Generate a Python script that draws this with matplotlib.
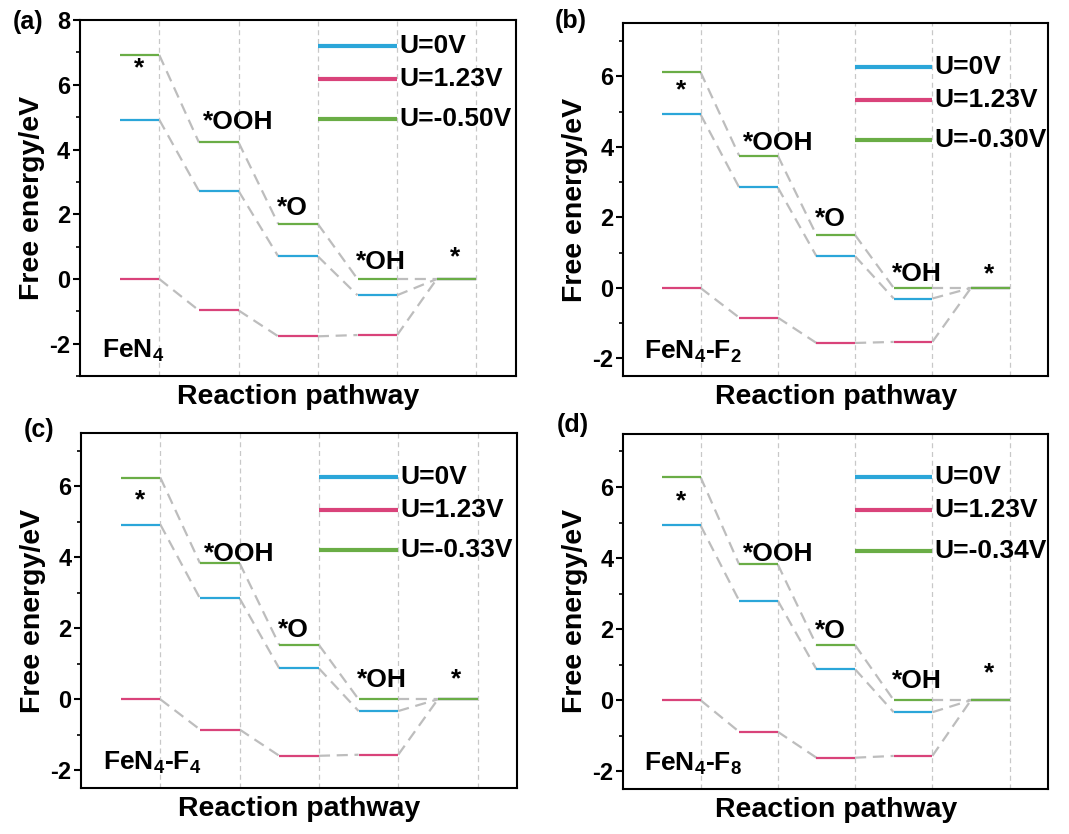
"""
Free energy diagrams of ORR on FeN4 and F-doped FeN4.
"""

import matplotlib
matplotlib.use("Agg")

import matplotlib.pyplot as plt

plt.rcParams["font.family"] = ["Liberation Sans", "DejaVu Sans"]
plt.rcParams["font.weight"] = "bold"
plt.rcParams["mathtext.fontset"] = "custom"
plt.rcParams["mathtext.rm"] = "Liberation Sans:bold"
plt.rcParams["mathtext.it"] = "Liberation Sans:bold"
plt.rcParams["mathtext.bf"] = "Liberation Sans:bold"
plt.rcParams["mathtext.default"] = "rm"

# Reaction steps: *, *OOH, *O, *OH, *
steps = ["*", "*OOH", "*O", "*OH", "*"]

panel_tags = ["(a)", "(b)", "(c)", "(d)"]
catalysts = ["FeN$_4$", "FeN$_4$-F$_2$", "FeN$_4$-F$_4$", "FeN$_4$-F$_8$"]
limiting_labels = ["U=-0.50V", "U=-0.30V", "U=-0.33V", "U=-0.34V"]

# energies (eV) at U=0V
g_u0 = [
    [4.92, 2.72, 0.70, -0.50, 0.0],
    [4.92, 2.85, 0.90, -0.30, 0.0],
    [4.92, 2.84, 0.87, -0.33, 0.0],
    [4.92, 2.80, 0.87, -0.34, 0.0],
]
# energies (eV) at U=1.23V
g_u123 = [
    [0.0, -0.97, -1.77, -1.73, 0.0],
    [0.0, -0.84, -1.56, -1.53, 0.0],
    [0.0, -0.85, -1.59, -1.56, 0.0],
    [0.0, -0.89, -1.62, -1.57, 0.0],
]
# energies (eV) at the limiting potential
g_ulim = [
    [6.92, 4.22, 1.70, 0.0, 0.0],
    [6.12, 3.75, 1.50, 0.0, 0.0],
    [6.24, 3.83, 1.53, 0.0, 0.0],
    [6.28, 3.82, 1.55, 0.0, 0.0],
]

ylims = [(-3, 8), (-2.5, 7.5), (-2.5, 7.5), (-2.5, 7.5)]
major_ticks = [[-2, 0, 2, 4, 6, 8], [-2, 0, 2, 4, 6], [-2, 0, 2, 4, 6], [-2, 0, 2, 4, 6]]
minor_ticks = [[-3, -1, 1, 3, 5, 7], [-1, 1, 3, 5, 7], [-1, 1, 3, 5, 7], [-1, 1, 3, 5, 7]]

# y positions of the step labels in each panel
label_y = [
    [6.5, 4.85, 2.2, 0.52, 0.68],
    [5.6, 4.1, 1.95, 0.4, 0.4],
    [5.6, 4.1, 1.95, 0.55, 0.55],
    [5.6, 4.1, 1.95, 0.55, 0.75],
]
label_x = [0.75, 2.0, 2.68, 3.8, 4.73]
legend_y = [[7.2, 6.17, 4.95], [6.27, 5.32, 4.2], [6.25, 5.32, 4.2], [6.28, 5.34, 4.2]]

BLUE = "#2ba6d9"
PINK = "#d9437a"
GREEN = "#6aad46"
GRAY = "#bdbdbd"

positions = [
    [0.0748, 0.549, 0.408, 0.427],
    [0.583, 0.549, 0.3976, 0.423],
    [0.0758, 0.055, 0.408, 0.426],
    [0.583, 0.054, 0.3976, 0.426],
]
tag_xy = [(0.012, 0.974), (0.519, 0.975), (0.022, 0.485), (0.521, 0.49)]

fig = plt.figure(figsize=(10.69, 8.34), dpi=100)

for p in range(4):
    ax = fig.add_axes(positions[p])
    series = [(g_u0[p], BLUE), (g_u123[p], PINK), (g_ulim[p], GREEN)]

    # vertical separators
    for xv in range(1, 6):
        ax.axvline(xv, color="#c8c8c8", lw=0.9, linestyle=(0, (4, 3)), zorder=0)

    for vals, col in series:
        for i, v in enumerate(vals):
            ax.plot([i + 0.5, i + 1], [v, v], color=col, lw=1.6, zorder=3,
                    solid_capstyle="butt")
            if i < len(vals) - 1:
                ax.plot([i + 1, i + 1.5], [v, vals[i + 1]], color=GRAY, lw=1.6,
                        linestyle=(0, (5, 3)), zorder=2)

    # step labels
    for i, s in enumerate(steps):
        ax.text(label_x[i], label_y[p][i], s, fontsize=19, fontweight="bold",
                ha="center", va="center")

    # legend
    legend_items = [("U=0V", BLUE), ("U=1.23V", PINK), (limiting_labels[p], GREEN)]
    for (lab, col), yy in zip(legend_items, legend_y[p]):
        ax.plot([3, 4], [yy, yy], color=col, lw=3, solid_capstyle="butt", zorder=3)
        ax.text(4.03, yy, lab, fontsize=19, fontweight="bold", ha="left", va="center")

    ax.text(0.05, 0.07, catalysts[p], transform=ax.transAxes, fontsize=19,
            fontweight="bold", ha="left", va="center")

    ax.set_xlim(0, 5.5)
    ax.set_ylim(*ylims[p])
    ax.set_xticks([])
    ax.set_yticks(major_ticks[p])
    ax.set_yticks(minor_ticks[p], minor=True)
    ax.set_yticklabels([str(t) for t in major_ticks[p]], fontsize=17, fontweight="bold")
    ax.tick_params(axis="y", which="major", direction="out", length=5, width=1.5, pad=2)
    ax.tick_params(axis="y", which="minor", direction="out", length=3, width=1.2)
    for sp in ax.spines.values():
        sp.set_linewidth(1.5)
    ax.set_xlabel("Reaction pathway", fontsize=20.5, fontweight="bold", labelpad=6)
    ax.set_ylabel("Free energy/eV", fontsize=20.5, fontweight="bold", labelpad=3)

    fig.text(tag_xy[p][0], tag_xy[p][1], panel_tags[p], fontsize=18,
             fontweight="bold", ha="left", va="center")

fig.savefig("out.png", dpi=100)
plt.close(fig)
